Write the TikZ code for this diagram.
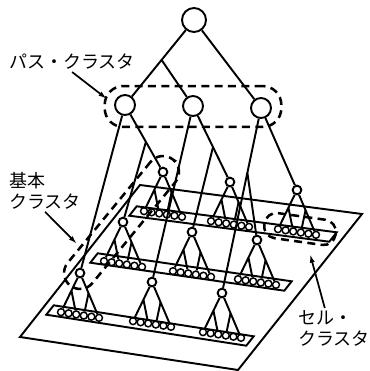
\documentclass[tikz,border=0pt]{standalone}
\usepackage{fontspec}
\newfontfamily\jpfont{Noto Sans CJK JP}
\usetikzlibrary{arrows.meta,calc,positioning,fit}

\begin{document}
\begin{tikzpicture}[x=0.75pt,y=-0.75pt,line width=1.45pt,
    every node/.style={font=\jpfont\fontsize{13.5pt}{16pt}\selectfont}]
    \tikzset{unit/.style={circle,draw,line width=1.45pt,inner sep=0pt,minimum size=#1},
      cell/.style={circle,draw,line width=1.1pt,inner sep=0pt,minimum size=5.2pt},
      grp/.style={draw,dash pattern=on 6pt off 4pt,line width=1.9pt,inner sep=0pt},
      lbl/.style={inner sep=1pt,align=left},
      ptr/.style={-{Latex[length=6.5pt,width=3.8pt]},line width=1.3pt}}
    \useasboundingbox (0,0) rectangle (369,371);
    % plane and strips
    \draw (140,185) -- (362,214) -- (238,370) -- (20,337) -- cycle;
    \foreach \lx/\ly/\rx/\ry in {133/211/333/237,94/258/288/286,50/310/250/341}
      \draw (\lx+3.7,\ly-4.7) -- (\rx+3.7,\ry-4.7) -- (\rx-3.7,\ry+4.7) -- (\lx-3.7,\ly+4.7) -- cycle;
    % top and path nodes
    \node[unit=18pt] (top) at (194,20) {};
    \foreach \i/\x/\y in {1/125/105,2/193/106,3/261/108}
      \node[unit=15pt] (p\i) at (\x,\y) {};
    % basic cluster nodes with their cells
    \foreach \r/\c/\x/\y in {b/1/163/172,b/2/230/182,b/3/297/190,m/1/123/222,m/2/192/232,
        m/3/257/240,f/1/80/273,f/2/152/282,f/3/222/293}{
      \node[unit=6.5pt] (\r\c) at (\x,\y) {};
      \foreach \k in {1,...,6}
        \node[cell] (\r\c-\k) at (\x+\k*7.6-26.6,\y+42+\k*1.14-4.0) {};
      \draw (\r\c) -- (\r\c-1);
      \draw (\r\c) -- (\r\c-6);
      \draw ($(\r\c)!0.45!(\r\c-1)$) -- (\r\c-3);
      \draw ($(\r\c)!0.45!(\r\c-6)$) -- (\r\c-4);
    }
    % tree links
    \draw (top) -- (p1);
    \draw (top) -- (p3);
    \draw ($(top)!0.47!(p1)$) -- (p2);
    \draw (p1) -- (b1); \draw (p1) -- (f1); \draw ($(p1)!0.55!(b1)$) -- (m1);
    \draw (p2) -- (b2); \draw (p2) -- (f2); \draw ($(p2)!0.54!(b2)$) -- (m2);
    \draw (p3) -- (b3); \draw (p3) -- (f3); \draw ($(p3)!0.35!(f3)$) -- (m3);
    % dashed groups
    \node[grp,rounded corners=14pt,fit=(p1)(p3),inner xsep=7pt,inner ysep=6pt] (pathgrp) {};
    \node[grp,rotate=50.6,minimum width=122pt,minimum height=24pt,rounded corners=12pt] (basicgrp) at ($(b1)!0.5!(f1)$) {};
    \node[grp,rotate=-8,minimum width=54pt,minimum height=19pt,rounded corners=9pt] (cellgrp) at (300,229) {};
    % labels
    \node[lbl,anchor=west] (pathlbl) at (7,62) {パス・クラスタ};
    \node[lbl,anchor=north west] (basiclbl) at (7,170) {基本\\クラスタ};
    \node[lbl,anchor=north west] (celllbl) at (296,308) {セル・\\クラスタ};
    \coordinate (pathtip) at (107,99);
    \coordinate (basictip) at (77,244);
    \coordinate (celltip) at (310,254);
    \draw[ptr] (pathlbl.south) -- (pathtip);
    \draw[ptr] (basiclbl.south) -- (basictip);
    \draw[ptr] ([xshift=-7pt]celllbl.north) -- (celltip);
  \end{tikzpicture}
\end{document}
